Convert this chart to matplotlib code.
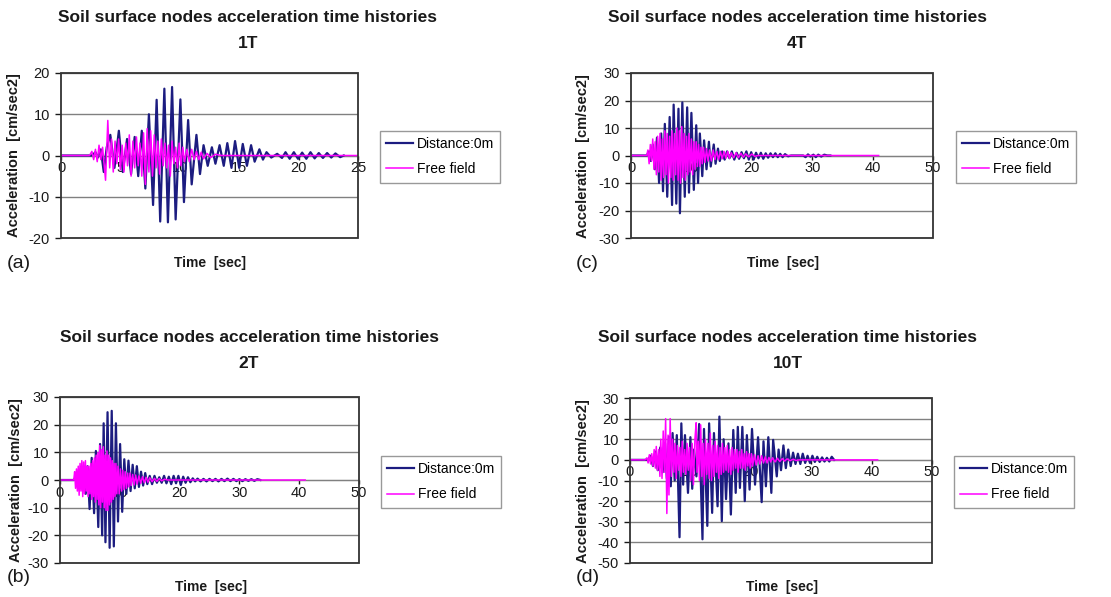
import numpy as np
import matplotlib.pyplot as plt
from matplotlib.patches import Rectangle

plt.rcParams['font.family'] = ['Liberation Sans', 'DejaVu Sans']
plt.rcParams['axes.unicode_minus'] = False

W, H = 1111, 597
BLUE = '#1c1c80'
PINK = '#ff00ff'
TITLE = 'Soil surface nodes acceleration time histories'

# peak-by-peak readings (time [sec], acceleration [cm/sec2])
dist_1T = [(0, 0), (2.6, 0), (2.9, 0.8), (3.1, -0.5), (3.35, 1.5), (3.6, -4), (3.85, 2), (4.15, 5),
           (4.5, -3), (4.87, 6), (5.2, -4), (5.56, 4), (5.9, -4.5), (6.2, 4.5), (6.5, -5), (6.8, 6),
           (7.1, -8), (7.4, 10), (7.75, -12), (8.05, 13.5), (8.35, -16), (8.7, 16.2), (9.0, -16.2),
           (9.35, 16.6), (9.65, -15.5), (10.05, 13.6), (10.35, -11.3), (10.7, 8.6), (11.0, -7),
           (11.4, 5), (11.7, -4.5), (12.0, 2.5), (12.35, -2.5), (12.7, 2), (13.0, -2), (13.35, 2.5),
           (13.7, -2.5), (14.0, 3), (14.35, -3), (14.65, 3.5), (15.0, -3), (15.3, 2.8), (15.65, -2.5),
           (16.0, 2.5), (16.3, -1.5), (16.7, 1.5), (17.0, -1), (17.3, 0.8), (17.7, -0.5), (18.2, 0.4),
           (18.6, -0.6), (18.9, 0.8), (19.25, -0.8), (19.6, 0.8), (19.95, -0.8), (20.3, 0.7),
           (20.65, -0.8), (21.0, 0.8), (21.35, -0.7), (21.7, 0.6), (22.05, -0.6), (22.4, 0.6),
           (22.75, -0.5), (23.1, 0.5), (23.5, -0.4), (23.8, 0)]
free_1T = [(0, 0), (2.4, 0), (2.6, 1), (2.75, -1), (2.9, 1.5), (3.05, -1.5), (3.2, 2.5), (3.35, -1),
           (3.5, 2), (3.75, -6), (3.94, 8.5), (4.1, -3), (4.25, 4), (4.4, -4), (4.55, 3.5), (4.7, -2),
           (4.85, 4), (5.0, -3.5), (5.15, 2.5), (5.3, -4), (5.45, 3), (5.6, -2.5), (5.75, 5), (5.9, -5),
           (6.05, 3.5), (6.2, -3), (6.35, 4.5), (6.5, -2.5), (6.65, 3), (6.8, -5), (6.95, 5.5),
           (7.1, -7), (7.25, 6.5), (7.4, -4), (7.55, 6), (7.7, -5), (7.85, 5), (8.0, -3), (8.15, 3.5),
           (8.3, -4.5), (8.45, 4), (8.6, -2.5), (8.75, 3), (8.9, -3), (9.05, 2.5), (9.2, -5),
           (9.35, 3.5), (9.5, -2), (9.65, 2), (9.8, -3), (9.95, 3), (10.1, -2.5), (10.25, 2),
           (10.4, -1.5), (10.6, 1.5), (10.8, -1.5), (11.0, 1.5), (11.2, -1), (11.4, 1), (11.6, -1),
           (11.8, 0.8), (12.0, -0.8), (12.3, 0.5), (12.6, -0.5), (13.0, 0.3), (13.5, 0), (25, 0)]

dist_2T = [(0, 0), (2.3, 0), (2.6, 1), (2.9, -2), (3.2, 2), (3.6, -3), (3.95, 4), (4.3, -5), (4.6, 5),
           (4.95, -10.5), (5.3, 8), (5.7, -12), (6.0, 10.5), (6.4, -17), (6.7, 13), (7.05, -20),
           (7.3, 20.5), (7.6, -22.5), (7.95, 24.5), (8.3, -24.5), (8.65, 25), (9.0, -24), (9.35, 20.5),
           (9.7, -15), (10.05, 13), (10.4, -11.5), (10.75, 7.5), (11.1, -5), (11.45, 7), (11.8, -4),
           (12.15, 5.5), (12.5, -3), (12.85, 5), (13.2, -2.5), (13.55, 3), (13.9, -2), (14.25, 2.5),
           (14.6, -1.5), (15.0, 1.5), (15.4, -1.5), (15.8, 1.5), (16.2, -1), (16.6, 1), (17.0, -1),
           (17.4, 1.5), (17.8, -1.2), (18.2, 1.2), (18.6, -1.5), (19.0, 1.5), (19.4, -1.2), (19.8, 1.5),
           (20.2, -1.8), (20.6, 1.2), (21.0, -1), (21.4, 1), (21.8, -0.8), (22.2, 0.6), (22.6, -0.5),
           (23.0, 0.5), (23.5, -0.5), (24, 0.4), (24.5, -0.5), (25, 0.4), (25.5, -0.4), (26, 0.4),
           (26.5, -0.5), (27, 0.4), (27.5, -0.4), (28, 0.5), (28.5, -0.4), (29, 0.4), (29.5, -0.4),
           (30, 0.3), (30.5, -0.4), (31, 0.3), (31.5, -0.3), (32, 0.3), (32.5, -0.3), (33, 0.3),
           (33.5, 0)]
free_2T = [(0, 0), (2.3, 0), (2.45, 3), (2.6, -3), (2.75, 4), (2.9, -4), (3.05, 5), (3.2, -5.5),
           (3.35, 6), (3.5, -4), (3.65, 7), (3.8, -6), (3.95, 6.5), (4.1, -5), (4.25, 7), (4.4, -4),
           (4.55, 5), (4.7, -6), (4.85, 5), (5.0, -5), (5.15, 6), (5.3, -7), (5.45, 7), (5.6, -6),
           (5.75, 8), (5.9, -8), (6.05, 9), (6.2, -7), (6.35, 10), (6.5, -9), (6.65, 12.5), (6.8, -10),
           (6.95, 11), (7.1, -8), (7.25, 12), (7.4, -10), (7.55, 9), (7.7, -11), (7.85, 10.5),
           (8.0, -11), (8.15, 9), (8.3, -9), (8.45, 8), (8.6, -8), (8.75, 7), (8.9, -7), (9.05, 6),
           (9.2, -6), (9.35, 6), (9.5, -5), (9.7, 5), (9.9, -5), (10.1, 4), (10.3, -4), (10.5, 3.5),
           (10.7, -3.5), (10.9, 3), (11.1, -3), (11.3, 2.5), (11.5, -2.5), (11.7, 2.5), (11.9, -2),
           (12.15, 2), (12.4, -1.8), (12.65, 1.8), (12.9, -1.5), (13.2, 1.5), (13.5, -1.2),
           (13.8, 1.2), (14.1, -1), (14.4, 1), (14.7, -0.8), (15, 0.8), (15.4, -0.6), (15.8, 0.6),
           (16.2, -0.5), (16.6, 0.5), (17, -0.3), (17.5, 0.3), (18, 0), (41, 0)]

dist_4T = [(0, 0), (2.6, 0), (3.0, 1.5), (3.3, -2), (3.6, 4), (3.95, -5), (4.3, 6.5), (4.65, -10),
           (5.0, 8), (5.3, -13), (5.6, 11.5), (6.0, -15), (6.4, 14), (6.8, -18), (7.06, 18.5),
           (7.5, -17.5), (7.86, 17), (8.1, -21), (8.5, 19.3), (8.9, -15), (9.3, 17.5), (9.6, -13.5),
           (10.0, 15.5), (10.4, -12.5), (10.8, 11), (11.1, -10), (11.4, 8), (11.8, -7.5), (12.1, 5.5),
           (12.5, -5), (12.9, 5), (13.2, -4), (13.7, 4), (14.0, -3), (14.4, 2.5), (14.7, -2),
           (15.1, 1.5), (15.5, -1.5), (15.9, 1.5), (16.3, -1), (16.7, 1.5), (17.1, -1.5), (17.5, 1),
           (17.9, -1.2), (18.3, 1.2), (18.7, -1), (19.1, 1.5), (19.5, -1.5), (19.9, 1.2), (20.3, -1.5),
           (20.7, 1), (21.1, -1), (21.5, 1), (21.9, -1.2), (22.3, 0.8), (22.7, -0.8), (23.1, 0.8),
           (23.5, -0.6), (23.9, 0.8), (24.3, -0.6), (24.7, 0.6), (25.1, -0.6), (25.5, 0.5),
           (26, -0.3), (26.5, 0), (28.5, 0), (28.9, -0.6), (29.3, 0.4), (29.7, -0.4), (30.2, 0.3),
           (30.6, -0.6), (31, 0.3), (31.5, -0.4), (32, 0.3), (32.5, 0), (33, 0)]
free_4T = [(0, 0), (2.6, 0), (2.8, 2), (3.0, -3), (3.2, 4), (3.4, -2), (3.6, 6), (3.8, -5), (4.0, 5),
           (4.2, -7), (4.4, 7), (4.6, -6), (4.8, 8), (5.0, -9), (5.2, 6), (5.4, -8), (5.6, 9),
           (5.8, -7), (6.0, 8), (6.2, -10), (6.4, 7), (6.6, -8), (6.8, 9), (7.0, -9), (7.2, 8),
           (7.4, -7), (7.6, 10), (7.8, -9), (8.0, 9), (8.2, -10), (8.4, 10.5), (8.6, -8), (8.8, 8),
           (9.0, -9), (9.2, 7), (9.4, -7), (9.6, 8), (9.8, -6), (10.0, 6), (10.2, -7), (10.4, 5),
           (10.6, -5), (10.8, 5), (11.0, -4), (11.2, 4), (11.4, -4), (11.6, 3), (11.8, -3), (12.0, 3),
           (12.25, -2.5), (12.5, 2.5), (12.75, -2), (13.0, 2), (13.3, -2), (13.6, 2), (13.9, -1.5),
           (14.2, 1.5), (14.5, -1.5), (14.8, 1.5), (15.1, -1.2), (15.4, 1.5), (15.7, -1), (16.0, 1.5),
           (16.3, -1), (16.6, 1), (17, -0.8), (17.4, 1), (17.8, -0.8), (18.2, 0.8), (18.6, -0.6),
           (19, 0.6), (19.5, -0.5), (20, 0.5), (20.5, -0.3), (21, 0), (41, 0)]

dist_10T = [(0, 0), (3.0, 0), (3.4, 2), (3.8, -3), (4.2, 4), (4.6, -5), (5.0, 6), (5.4, -6), (5.8, 8),
            (6.1, -9), (6.45, 11.3), (6.75, -12.8), (7.05, 13), (7.4, -10), (7.75, 12), (8.2, -37.5),
            (8.5, 17.7), (8.8, -12), (9.1, 12), (9.6, -16), (10.0, 11), (10.3, -14), (10.6, 5),
            (11.0, -8), (11.45, 17.4), (12.0, -38.5), (12.25, 15), (12.8, -32), (13.1, 17.7),
            (13.6, -25.7), (13.9, 13), (14.5, -22.5), (14.8, 21), (15.2, -29.7), (15.5, 10),
            (15.9, -19), (16.3, 8), (16.7, -26.5), (17.1, 14.5), (17.5, -16), (17.85, 16),
            (18.2, -13.6), (18.6, 16), (19.0, -20), (19.35, 12), (19.8, -14.4), (20.2, 15),
            (20.7, -12), (21.2, 11), (21.8, -20.5), (22.1, 9), (22.5, -12.8), (22.9, 11),
            (23.4, -16), (23.7, 9.7), (24.3, -8), (24.6, 5), (25.0, -5), (25.4, 7), (25.8, -4),
            (26.2, 5), (26.6, -3), (27.0, 3.5), (27.4, -2), (27.8, 3), (28.2, -2), (28.6, 3),
            (29.0, -1.5), (29.4, 2), (29.8, -1.5), (30.2, 2), (30.6, -1), (31.0, 1.5), (31.4, -1),
            (31.8, 1.2), (32.2, -0.8), (32.6, 1), (33.0, -0.8), (33.4, 1.5), (33.8, 0)]
free_10T = [(0, 0), (2.5, 0), (2.8, 1), (3.0, -1.5), (3.2, 2.5), (3.4, -2), (3.6, 3), (3.8, -3),
            (4.0, 5), (4.2, -4), (4.35, 6.5), (4.55, -5), (4.75, 5), (4.95, -8), (5.1, 10), (5.3, -9),
            (5.5, 14), (5.7, -6), (5.9, 20), (6.1, -26), (6.3, 12), (6.45, -17), (6.65, 20),
            (6.85, -8), (7.05, 10), (7.25, -6), (7.45, 8), (7.65, -9), (7.85, 7), (8.05, -5),
            (8.25, 6), (8.45, -8), (8.65, 9), (8.85, -6), (9.05, 5), (9.25, -7), (9.45, 8), (9.65, -5),
            (9.85, 6), (10.05, -10), (10.3, 8), (10.5, -12), (10.75, 10), (10.95, 18), (11.1, -6),
            (11.3, 9), (11.5, -10), (11.7, 17), (11.9, -8), (12.1, 8), (12.3, -12), (12.5, 10),
            (12.7, -7), (12.9, 8), (13.1, -9), (13.3, 13), (13.5, -10), (13.7, 7), (13.9, -8),
            (14.1, 9), (14.3, -6), (14.5, 7), (14.7, -9), (14.9, 6), (15.1, -7), (15.3, 8), (15.5, -6),
            (15.7, 6), (15.9, -5), (16.1, 7), (16.3, -6), (16.5, 5), (16.7, -7), (16.9, 6), (17.1, -5),
            (17.3, 5), (17.5, -4), (17.7, 5), (17.9, -6), (18.1, 4), (18.3, -4), (18.5, 5), (18.7, -4),
            (18.9, 3), (19.1, -5), (19.3, 4), (19.5, -3), (19.7, 3), (19.9, -4), (20.1, 3), (20.3, -3),
            (20.6, 2.5), (20.9, -2.5), (21.2, 2), (21.5, -2), (21.8, 2), (22.1, -1.5), (22.4, 1.5),
            (22.7, -1.5), (23.0, 1.2), (23.3, -1), (23.6, 1), (24.0, -1), (24.4, 0.8), (24.8, -0.8),
            (25.2, 0.6), (25.6, -0.6), (26.0, 0.5), (26.5, -0.4), (27, 0.3), (27.5, -0.3), (28, 0),
            (41, 0)]

fig = plt.figure(figsize=(W / 100, H / 100), dpi=100)


def rect(l, t, r, b):
    return [l / W, 1 - b / H, (r - l) / W, (b - t) / H]


def put(x, y, s, **kw):
    fig.text(x / W, 1 - y / H, s, **kw)


def panel(box, xmax, xstep, ylo, yhi, dist, free, sub, tag, leg, title_xy, time_xy, tag_xy, ylab_xy):
    ax = fig.add_axes(rect(*box))
    d = np.array(dist)
    f = np.array(free)
    ax.plot(d[:, 0], d[:, 1], color=BLUE, lw=1.6, label='Distance:0m', zorder=3)
    ax.plot(f[:, 0], f[:, 1], color=PINK, lw=1.1, label='Free field', zorder=4)
    ax.set_xlim(0, xmax)
    ax.set_ylim(ylo, yhi)
    ax.set_xticks(np.arange(0, xmax + 1, xstep))
    ax.set_yticks(np.arange(ylo, yhi + 1, 10))
    ax.grid(axis='y', color='#808080', lw=1)
    ax.set_axisbelow(True)
    for s in ['top', 'right', 'left']:
        ax.spines[s].set_visible(False)
    ax.spines['bottom'].set_position(('data', 0))
    ax.spines['bottom'].set_color('#808080')
    ax.add_patch(Rectangle((0, 0), 1, 1, transform=ax.transAxes, fill=False,
                           ec='#333333', lw=1.3, clip_on=False, zorder=6))
    ax.tick_params(axis='y', direction='out', length=4, width=1, labelsize=10.5, pad=4,
                   colors='#1a1a1a')
    ax.tick_params(axis='x', direction='out', length=3, width=1, labelsize=10.5, pad=1,
                   colors='#1a1a1a')
    lg = ax.legend(loc='upper left', bbox_to_anchor=(leg[0] / W, 1 - leg[1] / H),
                   bbox_transform=fig.transFigure, fancybox=False, edgecolor='#808080',
                   fontsize=10, handlelength=1.9, handletextpad=0.3, borderpad=0.45,
                   labelspacing=0.8, borderaxespad=0)
    lg.get_frame().set_linewidth(1.0)
    put(title_xy[0], title_xy[1], TITLE, ha='center', va='center', fontsize=12.5,
        fontweight='bold', color='#1a1a1a')
    put(title_xy[0], title_xy[1] + 26, sub, ha='center', va='center', fontsize=12.5,
        fontweight='bold', color='#1a1a1a')
    put(time_xy[0], time_xy[1], 'Time  [sec]', ha='center', va='center', fontsize=10,
        fontweight='bold', color='#1a1a1a')
    put(tag_xy[0], tag_xy[1], tag, ha='left', va='center', fontsize=14, color='#1a1a1a')
    put(ylab_xy[0], ylab_xy[1], 'Acceleration  [cm/sec2]', ha='center', va='center',
        rotation=90, fontsize=10.5, fontweight='bold', color='#1a1a1a')


panel((61, 73, 358, 238), 25, 5, -20, 20, dist_1T, free_1T, '1T', '(a)', (380, 131),
      (248, 17), (210, 263), (7, 263), (14, 155))
panel((631, 73, 933, 238), 50, 10, -30, 30, dist_4T, free_4T, '4T', '(c)', (956, 131),
      (797, 17), (783, 263), (576, 263), (583, 156))
panel((60, 397, 359, 563), 50, 10, -30, 30, dist_2T, free_2T, '2T', '(b)', (381, 456),
      (249, 338), (211, 587), (7, 577), (16, 480))
panel((630, 398, 932, 563), 50, 10, -50, 30, dist_10T, free_10T, '10T', '(d)', (954, 456),
      (788, 338), (782, 587), (576, 577), (583, 481))

fig.savefig('out.png', dpi=100, facecolor='white')
